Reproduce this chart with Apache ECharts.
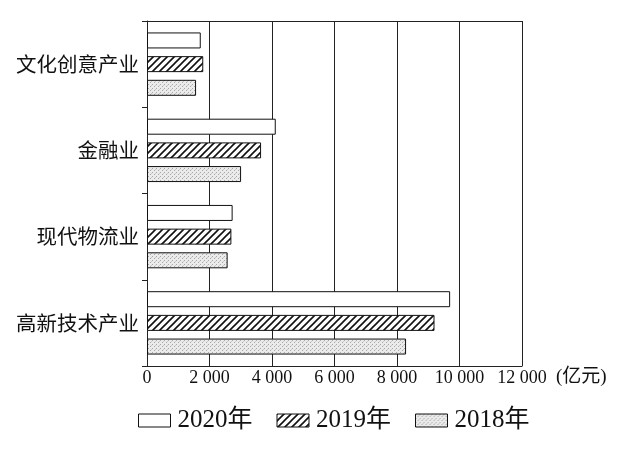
<!DOCTYPE html>
<html>
<head>
<meta charset="utf-8">
<script src="https://cdn.jsdelivr.net/npm/echarts@6/dist/echarts.min.js"></script>
<style>
html,body{margin:0;padding:0;background:#fff;}
#chart{width:643px;height:457px;}
</style>
</head>
<body>
<div id="chart"></div>
<script>
// Data
var categories = ['高新技术产业', '现代物流业', '金融业', '文化创意产业'];
var seriesNames = ['2020年', '2019年', '2018年'];
var values2020 = [9700, 2740, 4120, 1720];
var values2019 = [9200, 2700, 3650, 1800];
var values2018 = [8290, 2580, 3010, 1570];
var xTicks = [0, 2000, 4000, 6000, 8000, 10000, 12000];
var unitLabel = '(亿元)';

// Patterns
function hatchPattern() {
  var c = document.createElement('canvas');
  var s = 7;
  c.width = s; c.height = s;
  var g = c.getContext('2d');
  g.fillStyle = '#fff';
  g.fillRect(0, 0, s, s);
  g.strokeStyle = '#111';
  g.lineWidth = 1.6;
  g.beginPath();
  g.moveTo(-1, s + 1); g.lineTo(s + 1, -1);
  g.moveTo(-1 - s, s + 1); g.lineTo(1, -1);
  g.moveTo(s - 1, s + 1); g.lineTo(2 * s + 1, -1);
  g.stroke();
  return c;
}
function stipplePattern() {
  var c = document.createElement('canvas');
  c.width = 4; c.height = 4;
  var g = c.getContext('2d');
  g.fillStyle = '#ebebeb';
  g.fillRect(0, 0, 4, 4);
  g.fillStyle = '#a8a8a8';
  g.fillRect(0, 0, 1, 1);
  g.fillRect(2, 2, 1, 1);
  g.fillStyle = '#c8c8c8';
  g.fillRect(3, 1, 1, 1);
  return c;
}

var fmt = function (v) {
  var s = String(v);
  if (s.length > 3) s = s.slice(0, s.length - 3) + ' ' + s.slice(s.length - 3);
  return s;
};

var serif = '"Liberation Serif", "Noto Sans CJK SC", serif';
var cjk = '"Noto Sans CJK SC", sans-serif';
var lineColor = '#222';

var chart = echarts.init(document.getElementById('chart'), null, {renderer: 'canvas'});
var barStyleBase = {borderColor: '#111', borderWidth: 1};
var bw = 16, bg = '48%';
chart.setOption({
  animation: false,
  backgroundColor: '#fff',
  grid: {left: 147, right: 121, top: 21, bottom: 91, containLabel: false},
  legend: {
    data: seriesNames,
    left: 138,
    top: 408,
    padding: 0,
    itemWidth: 32,
    itemHeight: 13,
    itemGap: 24,
    icon: 'rect',
    textStyle: {fontFamily: serif, fontSize: 25, color: '#111', padding: [0, 0, 0, 2]},
    itemStyle: {borderColor: '#111', borderWidth: 1}
  },
  xAxis: [{
    type: 'value',
    min: xTicks[0],
    max: xTicks[xTicks.length - 1],
    interval: 2000,
    name: unitLabel,
    nameLocation: 'end',
    nameGap: 34,
    nameTextStyle: {fontFamily: serif, fontSize: 19, color: '#111', verticalAlign: 'top', padding: [2, 0, 0, 0]},
    axisLine: {show: true, lineStyle: {color: lineColor, width: 1}},
    axisTick: {show: false},
    axisLabel: {formatter: fmt, fontFamily: serif, fontSize: 18, color: '#111', margin: 3},
    splitLine: {show: true, lineStyle: {color: lineColor, width: 1}}
  }, {
    type: 'value',
    position: 'top',
    min: 0, max: 12000, interval: 2000,
    axisLine: {show: true, lineStyle: {color: lineColor, width: 1}},
    axisTick: {show: false},
    axisLabel: {show: false},
    splitLine: {show: false}
  }],
  yAxis: {
    type: 'category',
    data: categories,
    axisLine: {show: true, lineStyle: {color: lineColor, width: 1}},
    axisTick: {show: true, length: 5, lineStyle: {color: lineColor}},
    axisLabel: {fontFamily: cjk, fontSize: 20.5, color: '#111', margin: 8},
    splitLine: {show: false}
  },
  series: [{
    name: '2020年', type: 'bar', data: values2020, barWidth: bw, barGap: bg,
    itemStyle: Object.assign({color: '#fff'}, barStyleBase)
  }, {
    name: '2019年', type: 'bar', data: values2019, barWidth: bw, barGap: bg,
    itemStyle: Object.assign({color: {image: hatchPattern(), repeat: 'repeat'}}, barStyleBase)
  }, {
    name: '2018年', type: 'bar', data: values2018, barWidth: bw, barGap: bg,
    itemStyle: Object.assign({color: {image: stipplePattern(), repeat: 'repeat'}}, barStyleBase)
  }]
});
</script>
</body>
</html>
